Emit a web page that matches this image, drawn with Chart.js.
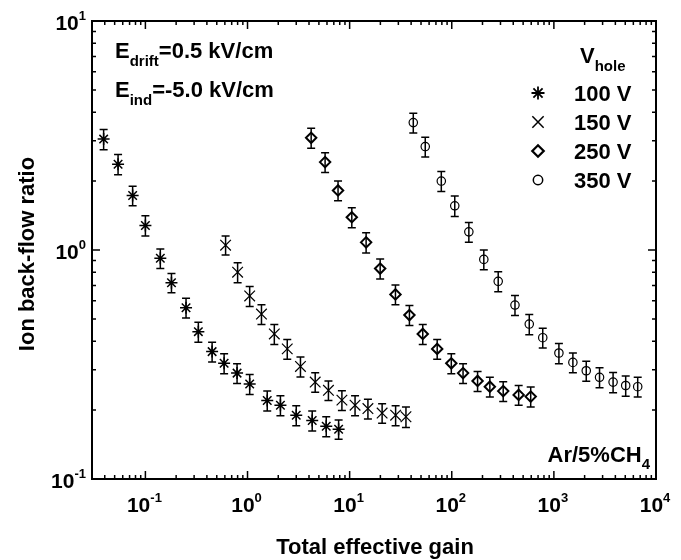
<!DOCTYPE html>
<html>
<head>
<meta charset="utf-8">
<script src="https://cdn.jsdelivr.net/npm/chart.js"></script>
<style>
  body { margin: 0; background: #fff; }
  canvas { display: block; }
</style>
</head>
<body>
<canvas id="ibfChart" width="681" height="560"></canvas>
<script>
// values (Ar/5%CH4, Edrift 0.5 kV/cm, Eind -5.0 kV/cm)
const gain100 = [0.039, 0.054, 0.075, 0.10, 0.14, 0.18, 0.25, 0.33, 0.45, 0.59, 0.79, 1.05, 1.56, 2.1, 3.0, 4.3, 5.9, 7.8];
const ibf100  = [3.05, 2.37, 1.73, 1.28, 0.92, 0.72, 0.56, 0.44, 0.36, 0.32, 0.29, 0.26, 0.22, 0.21, 0.19, 0.18, 0.17, 0.165];
const err100  = [0.31, 0.24, 0.17, 0.13, 0.09, 0.07, 0.055, 0.044, 0.036, 0.032, 0.029, 0.026, 0.022, 0.021, 0.019, 0.018, 0.017, 0.016];

const gain150 = [0.61, 0.80, 1.05, 1.37, 1.83, 2.45, 3.3, 4.6, 6.2, 8.4, 11.3, 15.1, 20.8, 28.2, 35.6];
const ibf150  = [1.05, 0.80, 0.63, 0.525, 0.43, 0.37, 0.31, 0.265, 0.244, 0.221, 0.21, 0.203, 0.194, 0.19, 0.187];
const err150  = [0.10, 0.08, 0.063, 0.052, 0.043, 0.037, 0.031, 0.026, 0.024, 0.022, 0.021, 0.020, 0.019, 0.019, 0.019];

const gain250 = [4.2, 5.75, 7.7, 10.5, 14.5, 19.9, 28.1, 38.5, 52, 72, 99, 129, 179, 236, 319, 452, 593];
const ibf250  = [3.09, 2.42, 1.82, 1.39, 1.08, 0.83, 0.64, 0.52, 0.43, 0.37, 0.32, 0.29, 0.268, 0.253, 0.242, 0.233, 0.229];
const err250  = [0.31, 0.24, 0.18, 0.14, 0.11, 0.083, 0.064, 0.052, 0.043, 0.037, 0.032, 0.029, 0.027, 0.025, 0.024, 0.023, 0.023];

const gain350 = [42, 55, 79, 107, 147, 206, 285, 416, 574, 778, 1120, 1535, 2075, 2800, 3800, 5050, 6620];
const ibf350  = [3.6, 2.83, 2.0, 1.56, 1.2, 0.91, 0.73, 0.575, 0.475, 0.414, 0.355, 0.323, 0.297, 0.278, 0.265, 0.256, 0.253];
const err350  = [0.36, 0.28, 0.20, 0.16, 0.12, 0.091, 0.073, 0.058, 0.048, 0.041, 0.036, 0.032, 0.030, 0.028, 0.027, 0.026, 0.025];

const seriesNames = ['100 V', '150 V', '250 V', '350 V'];
const xTickExps = [-1, 0, 1, 2, 3, 4];
const yTickExps = [-1, 0, 1];

const FONT = '"Liberation Sans", Arial, Helvetica, sans-serif';

function toPoints(xs, ys) {
    return xs.map((x, i) => ({ x: x, y: ys[i] }));
}

const series = [
    { label: seriesNames[0], xs: gain100, ys: ibf100, err: err100, style: 'star', radius: 6, bw: 1.5 },
    { label: seriesNames[1], xs: gain150, ys: ibf150, err: err150, style: 'crossRot', radius: 7.5, bw: 1.2 },
    { label: seriesNames[2], xs: gain250, ys: ibf250, err: err250, style: 'rectRot', radius: 5.2, bw: 2 },
    { label: seriesNames[3], xs: gain350, ys: ibf350, err: err350, style: 'circle', radius: 4.2, bw: 1.2 }
];

// sub/superscript helper, returns x after the text
function drawSub(ctx, main, sub, x, y, mainSize, subSize, dy) {
    ctx.font = 'bold ' + mainSize + 'px ' + FONT;
    ctx.fillText(main, x, y);
    let w = ctx.measureText(main).width;
    ctx.font = 'bold ' + subSize + 'px ' + FONT;
    ctx.fillText(sub, x + w, y + dy);
    return x + w + ctx.measureText(sub).width;
}

function powWidth(ctx, exp) {
    ctx.font = 'bold 21px ' + FONT;
    let w = ctx.measureText('10').width;
    ctx.font = 'bold 13px ' + FONT;
    return w + ctx.measureText(exp).width;
}

const errorBars = {
    id: 'errorBars',
    beforeDatasetsDraw(chart) {
        const ctx = chart.ctx;
        const yScale = chart.scales.y;
        ctx.save();
        ctx.strokeStyle = '#000';
        ctx.lineWidth = 1.5;
        series.forEach((s, i) => {
            const meta = chart.getDatasetMeta(i);
            meta.data.forEach((pt, j) => {
                const top = yScale.getPixelForValue(s.ys[j] + s.err[j]);
                const bot = yScale.getPixelForValue(s.ys[j] - s.err[j]);
                ctx.beginPath();
                ctx.moveTo(pt.x, top); ctx.lineTo(pt.x, bot);
                ctx.moveTo(pt.x - 4, top); ctx.lineTo(pt.x + 4, top);
                ctx.moveTo(pt.x - 4, bot); ctx.lineTo(pt.x + 4, bot);
                ctx.stroke();
            });
        });
        ctx.restore();
    }
};

const frameAndText = {
    id: 'frameAndText',
    afterDraw(chart) {
        const ctx = chart.ctx;
        const a = chart.chartArea;
        const xs = chart.scales.x, ys = chart.scales.y;
        ctx.save();
        ctx.strokeStyle = '#000';
        ctx.fillStyle = '#000';

        // frame
        ctx.lineWidth = 2;
        ctx.strokeRect(a.left, a.top, a.right - a.left, a.bottom - a.top);

        // minor + major ticks, inward on all sides
        ctx.lineWidth = 1.5;
        ctx.beginPath();
        for (let e = -2; e <= 4; e++) {
            for (let m = 1; m <= 9; m++) {
                const v = m * Math.pow(10, e);
                if (v < xs.min || v > xs.max) continue;
                const px = xs.getPixelForValue(v);
                const len = m === 1 ? 8 : 4;
                ctx.moveTo(px, a.bottom); ctx.lineTo(px, a.bottom - len);
                ctx.moveTo(px, a.top); ctx.lineTo(px, a.top + len);
            }
        }
        for (let e = -1; e <= 1; e++) {
            for (let m = 1; m <= 9; m++) {
                const v = m * Math.pow(10, e);
                if (v < ys.min || v > ys.max) continue;
                const py = ys.getPixelForValue(v);
                const len = m === 1 ? 8 : 4;
                ctx.moveTo(a.left, py); ctx.lineTo(a.left + len, py);
                ctx.moveTo(a.right, py); ctx.lineTo(a.right - len, py);
            }
        }
        ctx.stroke();

        // tick labels 10^n
        ctx.textAlign = 'left';
        ctx.textBaseline = 'alphabetic';
        xTickExps.forEach(e => {
            const px = xs.getPixelForValue(Math.pow(10, e));
            const w = powWidth(ctx, String(e));
            drawSub(ctx, '10', String(e), px - w / 2 - 1, 512, 21, 13, -10);
        });
        yTickExps.forEach(e => {
            const py = ys.getPixelForValue(Math.pow(10, e));
            const w = powWidth(ctx, String(e));
            drawSub(ctx, '10', String(e), 86 - w, py + 8.5, 21, 13, -10);
        });

        // axis titles
        ctx.font = 'bold 22px ' + FONT;
        ctx.textAlign = 'center';
        ctx.fillText('Total effective gain', (a.left + a.right) / 2 + 1, 554);
        ctx.save();
        ctx.translate(34, (a.top + a.bottom) / 2 + 4);
        ctx.rotate(-Math.PI / 2);
        ctx.fillText('Ion back-flow ratio', 0, 0);
        ctx.restore();

        // field annotations
        ctx.textAlign = 'left';
        let x = drawSub(ctx, 'E', 'drift', 115, 58, 22, 15, 8);
        ctx.font = 'bold 22px ' + FONT;
        ctx.fillText('=0.5 kV/cm', x, 58);
        x = drawSub(ctx, 'E', 'ind', 115, 97, 22, 15, 8);
        ctx.font = 'bold 22px ' + FONT;
        ctx.fillText('=-5.0 kV/cm', x, 97);

        // gas label, bottom right
        ctx.font = 'bold 15px ' + FONT;
        const w4 = ctx.measureText('4').width;
        ctx.font = 'bold 22px ' + FONT;
        const wAr = ctx.measureText('Ar/5%CH').width;
        drawSub(ctx, 'Ar/5%CH', '4', 650 - w4 - wAr, 462, 22, 15, 7);

        // legend
        drawSub(ctx, 'V', 'hole', 580, 63, 22, 15, 8);
        const rows = [93, 122, 151, 180];
        series.forEach((s, i) => {
            ctx.fillStyle = 'rgba(0,0,0,0)';
            ctx.lineWidth = s.bw + 0.3;
            Chart.helpers.drawPoint(ctx, { pointStyle: s.style, radius: s.radius + 0.5, rotation: 0, borderWidth: s.bw + 0.3 }, 538, rows[i]);
            ctx.fillStyle = '#000';
            ctx.font = 'bold 22px ' + FONT;
            ctx.fillText(s.label, 574, rows[i] + 8);
        });
        ctx.restore();
    }
};

const ctx = document.getElementById('ibfChart').getContext('2d');
const chart = new Chart(ctx, {
    type: 'scatter',
    data: {
        datasets: series.map(s => ({
            label: s.label,
            data: toPoints(s.xs, s.ys),
            showLine: false,
            pointStyle: s.style,
            pointRadius: s.radius,
            pointBorderWidth: s.bw,
            pointBorderColor: '#000',
            pointBackgroundColor: 'rgba(0,0,0,0)'
        }))
    },
    options: {
        responsive: false,
        animation: false,
        devicePixelRatio: 1,
        layout: { padding: { left: 92, right: 25, top: 21, bottom: 81 } },
        scales: {
            x: { type: 'logarithmic', min: 0.03, max: 10000, display: false },
            y: { type: 'logarithmic', min: 0.1, max: 10, display: false }
        },
        plugins: {
            legend: { display: false },
            tooltip: { enabled: false }
        }
    },
    plugins: [errorBars, frameAndText]
});
</script>
</body>
</html>
